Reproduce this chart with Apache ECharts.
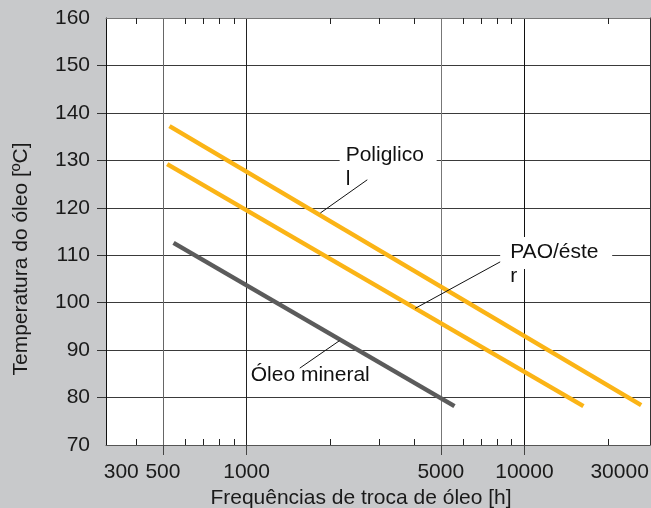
<!DOCTYPE html>
<html>
<head>
<meta charset="utf-8">
<script src="https://cdn.jsdelivr.net/npm/echarts@6/dist/echarts.min.js"></script>
<style>
html, body { margin: 0; padding: 0; background: #c8c9cb; }
#chart { width: 651px; height: 508px; }
</style>
</head>
<body>
<div id="chart"></div>
<script>
// oil change interval [h] vs oil temperature, one pair of arrays per oil type
const poliglicolHours = [528, 26300];
const poliglicolTemp = [137.2, 78.4];
const paoEsterHours = [518, 16300];
const paoEsterTemp = [129.2, 78.2];
const mineralHours = [546, 5600];
const mineralTemp = [112.6, 78.2];

// x axis ticks and labels (labels sit where the original drew them)
const xMajorTicks = [500, 1000, 5000, 10000];
const xMinorTicks = [400, 600, 700, 800, 900, 2000, 3000, 4000, 6000, 7000, 8000, 9000, 20000];
const xTickLabels = ['300', '500', '1000', '5000', '10000', '30000'];
const xTickLabelAt = [354, 500, 1000, 5000, 10000, 22000];
const yTickValues = [80, 90, 100, 110, 120, 130, 140, 150];

// callouts: text, top-left of the text, leader line start / end (data coords)
const calloutTexts = ['Poliglico\nl', 'PAO/éste\nr', 'Óleo mineral'];
const calloutAt = [[2273, 133.65], [8884, 113.2], [1035, 87.2]];
const leaderFrom = [[2719, 125.9], [8178, 108.6], [1554, 86.2]];
const leaderTo = [[1843, 118.9], [4044, 98.8], [2161, 92.0]];

const FONT = 'Liberation Sans, Arial, sans-serif';
const X_MIN = 312, X_MAX = 28300;

function zip(xs, ys) {
    return xs.map((x, i) => [x, ys[i]]);
}

const chart = echarts.init(document.getElementById('chart'));

const option = {
    animation: false,
    backgroundColor: '#c8c9cb',
    textStyle: { fontFamily: FONT },
    grid: {
        left: 106, top: 18, right: 1, bottom: 63,
        outerBoundsMode: 'none',
        show: true, backgroundColor: '#ffffff', borderWidth: 0
    },
    xAxis: [
        {
            type: 'log', logBase: 10, min: X_MIN, max: X_MAX, position: 'bottom',
            axisLine: { show: true, lineStyle: { color: '#555', width: 1 } },
            axisTick: {
                show: true, customValues: xMajorTicks, length: 10, inside: false,
                lineStyle: { color: '#444', width: 1 }
            },
            splitLine: {
                show: true,
                lineStyle: { color: ['#666', '#222', '#777', '#111'], width: 1 }
            },
            axisLabel: {
                customValues: xTickLabelAt,
                color: '#1a1a1a', fontSize: 21, margin: 17, fontFamily: FONT,
                formatter: function (v) {
                    const i = xTickLabelAt.findIndex(t => Math.abs(Math.log10(t) - Math.log10(v)) < 0.01);
                    return i >= 0 ? xTickLabels[i] : '';
                }
            }
        },
        {
            // minor ticks along the bottom
            type: 'log', logBase: 10, min: X_MIN, max: X_MAX, position: 'bottom',
            axisLine: { show: false },
            axisTick: { show: true, customValues: xMinorTicks, length: 6, inside: true, lineStyle: { color: '#222' } },
            axisLabel: { show: false },
            splitLine: { show: false }
        },
        {
            // top border with minor ticks
            type: 'log', logBase: 10, min: X_MIN, max: X_MAX, position: 'top',
            axisLine: { show: true, lineStyle: { color: '#777', width: 1 } },
            axisTick: { show: true, customValues: xMinorTicks, length: 6, inside: true, lineStyle: { color: '#222' } },
            axisLabel: { show: false },
            splitLine: { show: false }
        }
    ],
    yAxis: [
        {
            type: 'value', min: 70, max: 160, interval: 10,
            axisLine: { show: true, lineStyle: { color: '#111', width: 1 } },
            axisTick: { show: true, customValues: yTickValues, length: 9, lineStyle: { color: '#333' } },
            splitLine: { show: true, lineStyle: { color: '#3a3a3a', width: 1 } },
            axisLabel: { color: '#1a1a1a', fontSize: 21, margin: 16, fontFamily: FONT }
        },
        {
            type: 'value', min: 70, max: 160, position: 'right',
            axisLine: { show: true, lineStyle: { color: '#333', width: 1 } },
            axisTick: { show: false },
            axisLabel: { show: false },
            splitLine: { show: false }
        }
    ],
    series: [
        {
            name: 'Poliglicol', type: 'line', xAxisIndex: 0, yAxisIndex: 0,
            data: zip(poliglicolHours, poliglicolTemp),
            symbol: 'none', silent: true,
            lineStyle: { color: '#fbb416', width: 4.5 }
        },
        {
            name: 'PAO/éster', type: 'line', xAxisIndex: 0, yAxisIndex: 0,
            data: zip(paoEsterHours, paoEsterTemp),
            symbol: 'none', silent: true,
            lineStyle: { color: '#fbb416', width: 4.5 }
        },
        {
            name: 'Óleo mineral', type: 'line', xAxisIndex: 0, yAxisIndex: 0,
            data: zip(mineralHours, mineralTemp),
            symbol: 'none', silent: true,
            lineStyle: { color: '#5b5b5b', width: 4.5 }
        }
    ]
};

chart.setOption(option);

// axis titles and callouts are placed from the chart's own scales
const toPx = p => chart.convertToPixel({ seriesIndex: 0 }, p);
const masks = [[-6, 4, 97, 20], [-10, -3, 112, 32], null];
const graphics = [];

calloutTexts.forEach((text, i) => {
    const at = toPx(calloutAt[i]);
    const from = toPx(leaderFrom[i]);
    const to = toPx(leaderTo[i]);
    if (masks[i]) {
        const m = masks[i];
        graphics.push({
            type: 'rect', z: 10, silent: true,
            shape: { x: at[0] + m[0], y: at[1] + m[1], width: m[2], height: m[3] },
            style: { fill: '#ffffff' }
        });
    }
    graphics.push({
        type: 'line', z: 12, silent: true,
        shape: { x1: from[0], y1: from[1], x2: to[0], y2: to[1] },
        style: { stroke: '#111', lineWidth: 1 }
    });
    graphics.push({
        type: 'text', z: 11, silent: true, x: at[0], y: at[1],
        style: {
            text: text, fill: '#111', font: '21px ' + FONT,
            lineHeight: 24, align: 'left', verticalAlign: 'top'
        }
    });
});

graphics.push({
    type: 'text', silent: true, x: 361, y: 498.6,
    style: {
        text: 'Frequências de troca de óleo [h]', fill: '#1a1a1a', font: '21px ' + FONT,
        align: 'center', verticalAlign: 'middle'
    }
});
graphics.push({
    type: 'text', silent: true, x: 21, y: 259, rotation: Math.PI / 2,
    style: {
        text: 'Temperatura do óleo [ºC]', fill: '#1a1a1a', font: '21px ' + FONT,
        align: 'center', verticalAlign: 'middle'
    }
});

chart.setOption({ graphic: graphics });
</script>
</body>
</html>
